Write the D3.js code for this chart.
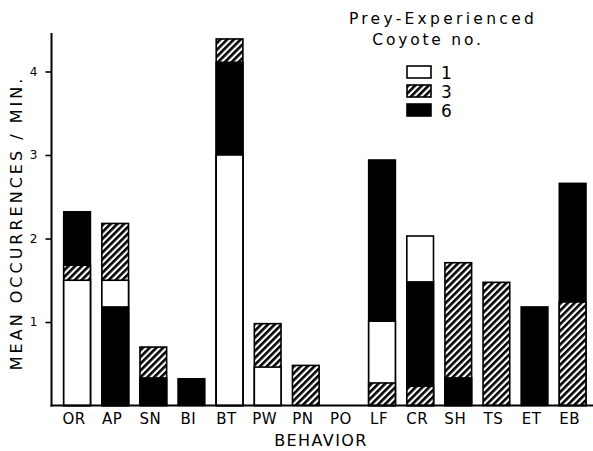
<!DOCTYPE html>
<html>
<head>
<meta charset="utf-8">
<script src="https://cdn.jsdelivr.net/npm/d3@7"></script>
<style>
  html, body { margin: 0; padding: 0; background: #fff; }
  svg { display: block; }
  text { font-family: "DejaVu Sans", sans-serif; fill: #000; }
</style>
</head>
<body>
<svg id="chart" width="593" height="451"></svg>
<script>
// ---- data ----
const categories = ["OR","AP","SN","BI","BT","PW","PN","PO","LF","CR","SH","TS","ET","EB"];
const coyote1 = [1.50, 1.50, 0,    0,    3.00, 0.46, 0,    0, 1.01, 2.03, 0,    0,     0,    0];
const coyote3 = [1.68, 2.18, 0.70, 0,    4.39, 0.98, 0.48, 0, 0.27, 0.23, 1.71, 1.475, 0,    1.24];
const coyote6 = [2.32, 1.18, 0.33, 0.32, 4.11, 0,    0,    0, 2.94, 1.48, 0.33, 0,     1.18, 2.66];
const seriesNames = ["1", "3", "6"];
const yTicks = [1, 2, 3, 4];

const svg = d3.select("#chart");

// hatch pattern
const defs = svg.append("defs");
const pat = defs.append("pattern")
  .attr("id", "hatch")
  .attr("patternUnits", "userSpaceOnUse")
  .attr("width", 4.8).attr("height", 4.8)
  .attr("patternTransform", "rotate(45)");
pat.append("rect").attr("width", 4.8).attr("height", 4.8).attr("fill", "#fff");
pat.append("rect").attr("x", 0).attr("width", 2.6).attr("height", 4.8).attr("fill", "#000");

const fills = { "1": "#fff", "3": "url(#hatch)", "6": "#000" };
const seriesVals = { "1": coyote1, "3": coyote3, "6": coyote6 };

const x = d3.scaleBand().domain(categories).range([58, 591.7]).paddingInner(0.3).paddingOuter(0.15);
const y = d3.scaleLinear().domain([0, 4]).range([405.5, 71.5]);

// bars (overlapping, each from zero, tallest drawn first)
categories.forEach((c, i) => {
  const items = seriesNames
    .map(s => ({ s, v: seriesVals[s][i] }))
    .filter(d => d.v > 0)
    .sort((a, b) => b.v - a.v);
  svg.append("g").selectAll("rect").data(items).join("rect")
    .attr("x", x(c))
    .attr("width", x.bandwidth())
    .attr("y", d => y(d.v))
    .attr("height", d => y(0) - y(d.v))
    .attr("fill", d => fills[d.s])
    .attr("stroke", "#000")
    .attr("stroke-width", 1.6);
});

// y axis
const yAxis = d3.axisLeft(y).tickValues(yTicks).tickSize(6).tickPadding(8).tickFormat(d3.format("d"));
const gy = svg.append("g").attr("transform", "translate(51.5,0)").call(yAxis);
gy.select(".domain").remove();
gy.selectAll(".tick line").attr("stroke", "#000").attr("stroke-width", 1.6);
gy.selectAll(".tick text").style("font-size", "12px").style("font-family", "DejaVu Sans, sans-serif");
svg.append("line").attr("x1", 51.5).attr("x2", 51.5).attr("y1", y(4.46)).attr("y2", y(0) + 1)
  .attr("stroke", "#000").attr("stroke-width", 2);

// x axis
const xAxis = d3.axisBottom(x).tickSize(0).tickPadding(7.5);
const gx = svg.append("g").attr("transform", `translate(0,${y(0)})`).call(xAxis);
gx.select(".domain").remove();
gx.selectAll(".tick text").style("font-size", "15px").style("font-family", "DejaVu Sans, sans-serif")
  .style("letter-spacing", "0.5px").attr("dx", -3);
svg.append("line").attr("x1", 50.5).attr("x2", 593).attr("y1", y(0)).attr("y2", y(0))
  .attr("stroke", "#000").attr("stroke-width", 2);

// axis titles
svg.append("text")
  .attr("transform", "translate(22,223) rotate(-90)")
  .attr("text-anchor", "middle")
  .style("font-size", "16px").style("letter-spacing", "3px")
  .text("MEAN OCCURRENCES / MIN.");
svg.append("text")
  .attr("x", 321).attr("y", 446)
  .attr("text-anchor", "middle")
  .style("font-size", "16px").style("letter-spacing", "1.4px")
  .text("BEHAVIOR");

// legend
svg.append("text").attr("x", 443).attr("y", 24).attr("text-anchor", "middle")
  .style("font-size", "15.5px").style("letter-spacing", "3.3px").text("Prey-Experienced");
svg.append("text").attr("x", 428).attr("y", 45).attr("text-anchor", "middle")
  .style("font-size", "15.5px").style("letter-spacing", "2.8px").text("Coyote no.");
const lg = svg.append("g").selectAll("g").data(seriesNames).join("g")
  .attr("transform", (d, i) => `translate(407,${66 + i * 19})`);
lg.append("rect").attr("width", 24).attr("height", 12)
  .attr("fill", d => fills[d]).attr("stroke", "#000").attr("stroke-width", 1.6);
lg.append("text").attr("x", 34).attr("y", 12.5).style("font-size", "17px").text(d => d);
</script>
</body>
</html>
